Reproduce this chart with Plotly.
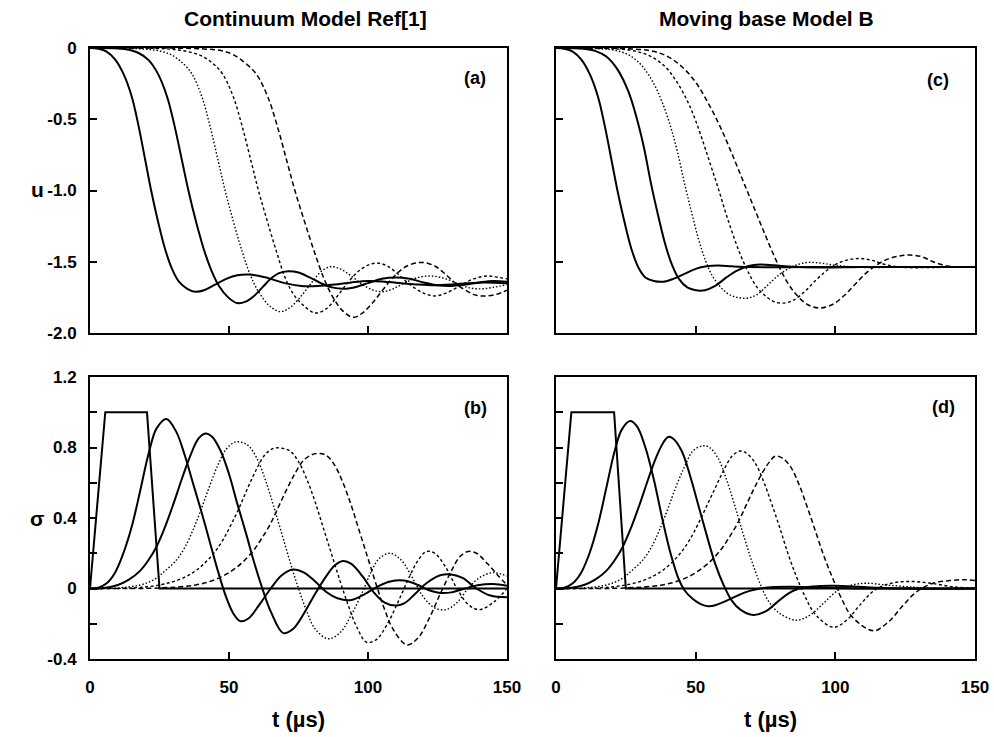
import plotly.graph_objects as go

# ---------------- Data ----------------
# Panel (a): Continuum model, displacement u
a1_t = [0,3,6,9,12,15,17.5,20,22,24.5,27,29.5,32,35,37.8,41,45,49,53,57,61,65,70,76,82,88,94,100,106,112,118,124,130,136,142,150]
a1_u = [0,-0.005,-0.025,-0.08,-0.18,-0.34,-0.55,-0.8,-1.0,-1.22,-1.41,-1.55,-1.64,-1.69,-1.71,-1.70,-1.66,-1.62,-1.595,-1.59,-1.60,-1.62,-1.65,-1.67,-1.67,-1.66,-1.645,-1.635,-1.64,-1.65,-1.66,-1.665,-1.66,-1.65,-1.645,-1.65]
a2_t = [0,10,14,17.5,21.1,24.4,27.7,30.45,33.2,35.4,38.15,40.9,43.65,46.4,49.7,52.9,56,59,62,65,68,71.3,75,79,83,87,91.5,96,100,105,110,115,120,125,130,135,140,145,150]
a2_u = [0,-0.003,-0.012,-0.035,-0.085,-0.18,-0.34,-0.55,-0.8,-1.0,-1.22,-1.41,-1.56,-1.67,-1.75,-1.79,-1.78,-1.74,-1.68,-1.62,-1.58,-1.566,-1.575,-1.61,-1.65,-1.68,-1.69,-1.675,-1.65,-1.62,-1.61,-1.62,-1.645,-1.665,-1.67,-1.66,-1.645,-1.635,-1.64]
a3_t = [0,15,22,26,29.5,33,36.6,40.2,43.2,46.2,48.6,51.6,54.6,57.6,60.6,64.6,68.5,72,76,80,83,86.5,90,94,98,102,105.5,109,113,118,123,128,133,137,141,145,150]
a3_u = [0,-0.003,-0.012,-0.025,-0.05,-0.1,-0.18,-0.34,-0.55,-0.8,-1.0,-1.22,-1.42,-1.59,-1.71,-1.81,-1.85,-1.82,-1.74,-1.64,-1.57,-1.535,-1.55,-1.6,-1.66,-1.7,-1.71,-1.69,-1.65,-1.61,-1.6,-1.62,-1.66,-1.685,-1.69,-1.68,-1.66]
a4_t = [0,22,30,35,39.5,43.7,47.6,51.5,54.75,58,60.6,63.85,67.1,70.35,73.6,77.6,81.1,85,89,93,97,100.5,103.7,107,111,115,120,124,128,133,138,143,147,150]
a4_u = [0,-0.002,-0.01,-0.025,-0.05,-0.1,-0.18,-0.34,-0.55,-0.8,-1.0,-1.22,-1.43,-1.62,-1.74,-1.82,-1.86,-1.83,-1.74,-1.64,-1.56,-1.52,-1.51,-1.53,-1.59,-1.66,-1.72,-1.74,-1.72,-1.67,-1.62,-1.6,-1.61,-1.62]
a5_t = [0,34,42,47.1,51.3,55.5,59.7,63.9,67.4,70.9,73.7,77.2,80.7,84.2,87.7,91.2,94.7,98,102,106,110,114,119.3,124,128,132,136,139,142,146,150]
a5_u = [0,-0.002,-0.008,-0.018,-0.045,-0.1,-0.18,-0.34,-0.55,-0.8,-1.0,-1.22,-1.43,-1.62,-1.76,-1.85,-1.89,-1.86,-1.78,-1.68,-1.59,-1.53,-1.505,-1.53,-1.59,-1.66,-1.71,-1.735,-1.74,-1.73,-1.7]

# Panel (b): Continuum model, stress sigma
b0_t = [0,5.5,20.5,25,150]
b0_s = [0,1.0,1.0,0,0]
b1_t = [0,3,6,9,12,15,18,21,24,27.5,31,34,37,40,43,46,49,51.5,54,57,61,65,69,73,77,81,85,89,94,99,104,108,113,118,122,126,130,135,140,145,150]
b1_s = [0,0.005,0.03,0.09,0.2,0.35,0.55,0.76,0.91,0.962,0.89,0.76,0.6,0.44,0.27,0.1,-0.05,-0.14,-0.185,-0.17,-0.09,0.0,0.075,0.108,0.09,0.04,-0.02,-0.055,-0.065,-0.03,0.015,0.04,0.045,0.02,-0.01,-0.025,-0.022,0.0,0.02,0.025,0.015]
b2_t = [0,5,10,14,18,21,24,27,30,33,36,39,41.5,44,47,50,53,56,59,62,65,69.5,73,77,81,85,88,91,94,98,102,106,110,113,117,121,126,130,134,139,144,150]
b2_s = [0,0.003,0.02,0.05,0.1,0.16,0.24,0.35,0.48,0.62,0.75,0.85,0.88,0.86,0.78,0.65,0.48,0.32,0.15,0.0,-0.13,-0.253,-0.23,-0.14,-0.03,0.07,0.13,0.156,0.14,0.07,-0.02,-0.08,-0.097,-0.085,-0.03,0.03,0.075,0.08,0.06,0.0,-0.04,-0.05]
b3_t = [0,10,18,23,27,31,34,37,40,43,46,49,52,54.5,57,60,63,66,69,72,75,78,81,85.7,90,94,98,101,104,108,112,116,120,124,128,132,136,140,145,150]
b3_s = [0,0.003,0.02,0.05,0.1,0.16,0.23,0.33,0.45,0.58,0.7,0.79,0.83,0.83,0.81,0.74,0.62,0.47,0.31,0.15,0.0,-0.13,-0.23,-0.285,-0.25,-0.15,-0.02,0.09,0.17,0.2,0.16,0.06,-0.05,-0.11,-0.12,-0.08,0.0,0.06,0.09,0.07]
b4_t = [0,15,25,32,37,41,45,48,51,54,57,60,63,66,69,72,75,78,81,84,87,90,93,96,99.5,103,107,111,115,118,121,124,128,132,136,140,145,150]
b4_s = [0,0.003,0.02,0.05,0.09,0.14,0.21,0.28,0.37,0.47,0.58,0.68,0.76,0.795,0.796,0.78,0.72,0.62,0.49,0.34,0.19,0.04,-0.1,-0.22,-0.305,-0.29,-0.2,-0.07,0.07,0.16,0.21,0.2,0.12,0.0,-0.09,-0.12,-0.08,0.0]
b5_t = [0,25,38,45,50,55,59,62,65,68,71,74,77,80,82.7,85,88,91,94,97,100,103,106,109,114,118,122,126,130,133,136,139,143,147,150]
b5_s = [0,0.003,0.02,0.05,0.09,0.15,0.22,0.29,0.37,0.47,0.57,0.66,0.73,0.76,0.766,0.755,0.7,0.6,0.47,0.32,0.17,0.02,-0.12,-0.23,-0.32,-0.28,-0.17,-0.03,0.1,0.18,0.21,0.2,0.14,0.07,0.02]

# Panel (c): Moving base model B, displacement u
c1_t = [0,3,6,9,12,15,17.5,20,22,24.5,27,29.5,32,35,38.5,42,46,50,54,58,63,70,80,95,115,150]
c1_u = [0,-0.005,-0.025,-0.08,-0.18,-0.34,-0.55,-0.8,-1.0,-1.22,-1.41,-1.54,-1.61,-1.635,-1.64,-1.62,-1.585,-1.55,-1.532,-1.527,-1.532,-1.537,-1.538,-1.537,-1.537,-1.537]
c2_t = [0,10,14,18,22,26,29,31.5,34,36.5,39,41.5,44,47,50,53.3,57,61,65,69,73,78,85,95,110,150]
c2_u = [0,-0.005,-0.02,-0.06,-0.15,-0.31,-0.5,-0.7,-0.95,-1.17,-1.37,-1.52,-1.62,-1.68,-1.70,-1.70,-1.67,-1.61,-1.56,-1.53,-1.52,-1.525,-1.535,-1.54,-1.537,-1.537]
c3_t = [0,15,22,27,31,35,38,41,43.5,46,48.5,51,53.5,56,59,62,65,68.2,72,76,80,85,90,95,100,110,125,150]
c3_u = [0,-0.005,-0.02,-0.06,-0.13,-0.25,-0.38,-0.55,-0.73,-0.95,-1.15,-1.34,-1.49,-1.6,-1.68,-1.73,-1.75,-1.756,-1.73,-1.66,-1.59,-1.53,-1.505,-1.51,-1.525,-1.54,-1.537,-1.537]
c4_t = [0,20,28,34,39,43,47,50,53,55.5,58,60.5,63,66,69,72,75,78,81.4,85,89,93,97,101,105,108.8,113,118,125,135,150]
c4_u = [0,-0.005,-0.02,-0.06,-0.13,-0.23,-0.37,-0.51,-0.68,-0.83,-0.98,-1.14,-1.29,-1.45,-1.58,-1.68,-1.74,-1.78,-1.79,-1.77,-1.71,-1.63,-1.56,-1.51,-1.485,-1.477,-1.49,-1.52,-1.54,-1.54,-1.537]
c5_t = [0,25,34,40,45,50,54,58,61,64,66.5,69,71.5,74,77,80,83,86,90,94.5,99,103,107,111,115,119,123,126.7,131,135,140,145,150]
c5_u = [0,-0.005,-0.02,-0.06,-0.13,-0.24,-0.37,-0.52,-0.65,-0.79,-0.91,-1.03,-1.15,-1.27,-1.41,-1.54,-1.65,-1.73,-1.8,-1.825,-1.8,-1.74,-1.66,-1.58,-1.52,-1.48,-1.46,-1.453,-1.465,-1.5,-1.53,-1.538,-1.537]

# Panel (d): Moving base model B, stress sigma
d0_t = [0,5.5,20.8,25,150]
d0_s = [0,1.0,1.0,0,0]
d1_t = [0,3,6,9,12,15,18,21,23.5,26.5,29,32,35,38,41,44,46,49,52,54.5,57,61,65,69,73,78,85,95,110,130,150]
d1_s = [0,0.005,0.03,0.09,0.2,0.36,0.57,0.78,0.9,0.95,0.92,0.8,0.62,0.4,0.2,0.05,-0.01,-0.06,-0.09,-0.1,-0.095,-0.07,-0.04,-0.015,0.0,0.008,0.01,0.005,0.0,0.0,0.0]
d2_t = [0,5,10,14,18,21,24,27,30,33,36,38.5,40.2,42,45,48,51,54,57,60,63,66,70.6,75,79,83,87,92,100,110,125,150]
d2_s = [0,0.003,0.02,0.05,0.1,0.16,0.24,0.35,0.48,0.62,0.75,0.83,0.86,0.85,0.78,0.64,0.47,0.3,0.14,0.02,-0.07,-0.12,-0.15,-0.13,-0.08,-0.03,0.0,0.012,0.015,0.008,0.0,0.0]
d3_t = [0,10,18,23,27,31,34,37,40,43,46,49,52.7,55,58,61,64,67,70,73,76,80,86,91,96,101,106,111,118,126,135,150]
d3_s = [0,0.003,0.02,0.05,0.1,0.16,0.23,0.33,0.45,0.58,0.69,0.78,0.81,0.8,0.74,0.62,0.47,0.31,0.16,0.03,-0.07,-0.14,-0.18,-0.15,-0.08,-0.01,0.02,0.03,0.02,0.01,0.0,0.0]
d4_t = [0,15,25,32,37,41,45,48,51,54,57,60,63,65.9,68,71,74,77,80,83,86,89,93,99.3,104,109,114,120,127,134,142,150]
d4_s = [0,0.003,0.02,0.05,0.09,0.14,0.21,0.28,0.37,0.47,0.57,0.67,0.75,0.78,0.77,0.72,0.62,0.49,0.35,0.2,0.07,-0.04,-0.15,-0.22,-0.18,-0.09,-0.01,0.03,0.04,0.03,0.01,0.0]
d5_t = [0,25,38,45,50,55,59,62,65,68,71,74,76.5,78.4,81,84,87,90,93,96,99,102,106,113.6,119,124,129,135,141,146,150]
d5_s = [0,0.003,0.02,0.05,0.09,0.15,0.22,0.29,0.37,0.47,0.57,0.66,0.72,0.75,0.74,0.69,0.59,0.46,0.32,0.18,0.06,-0.05,-0.16,-0.24,-0.19,-0.1,-0.02,0.03,0.045,0.05,0.045]

x_ticks = [0, 50, 100, 150]
u_ticks = [0, -0.5, -1.0, -1.5, -2.0]
u_ticktext = ["0", "-0.5", "-1.0", "-1.5", "-2.0"]
s_ticks = [1.2, 1.0, 0.8, 0.6, 0.4, 0.2, 0, -0.2, -0.4]
s_ticktext = ["1.2", "", "0.8", "", "0.4", "", "0", "", "-0.4"]

titles = ["Continuum Model Ref[1]", "Moving base Model B"]
panel_tags = ["(a)", "(b)", "(c)", "(d)"]
x_title = "t (\u00b5s)"

# ---------------- Styles ----------------
FONT = "Liberation Sans, Arial, Helvetica, sans-serif"
solid_thick = dict(color="black", width=2)
dotted = dict(color="black", width=1.4, dash="1.5px,2px")
shortdash = dict(color="black", width=1.4, dash="3px,2.5px")
dashed = dict(color="black", width=1.5, dash="5px,3px")

fig = go.Figure()

def add(x, y, line, xa, ya, shape="spline"):
    fig.add_trace(go.Scatter(x=x, y=y, mode="lines", line=dict(shape=shape, smoothing=1.0, **line),
                             xaxis=xa, yaxis=ya, showlegend=False, hoverinfo="skip"))

styles = [solid_thick, solid_thick, dotted, shortdash, dashed]
for (t, u), ln in zip([(a1_t, a1_u), (a2_t, a2_u), (a3_t, a3_u), (a4_t, a4_u), (a5_t, a5_u)], styles):
    add(t, u, ln, "x", "y")
for (t, u), ln in zip([(c1_t, c1_u), (c2_t, c2_u), (c3_t, c3_u), (c4_t, c4_u), (c5_t, c5_u)], styles):
    add(t, u, ln, "x2", "y2")
add(b0_t, b0_s, solid_thick, "x3", "y3", shape="linear")
for (t, s), ln in zip([(b1_t, b1_s), (b2_t, b2_s), (b3_t, b3_s), (b4_t, b4_s), (b5_t, b5_s)], styles):
    add(t, s, ln, "x3", "y3")
add(d0_t, d0_s, solid_thick, "x4", "y4", shape="linear")
for (t, s), ln in zip([(d1_t, d1_s), (d2_t, d2_s), (d3_t, d3_s), (d4_t, d4_s), (d5_t, d5_s)], styles):
    add(t, s, ln, "x4", "y4")

# Figure fills the whole 994x737 window (the page margin is removed below).
W, H = 994, 737

def PX(px):
    return px / W

def PY(py):
    return 1 - py / H

LX = [PX(90), PX(507)]
RX = [PX(556), PX(975)]
TY = [PY(333), PY(48)]
BY = [PY(659), PY(377)]

tickfont = dict(family=FONT, size=17, color="black", weight="bold")
common = dict(showline=True, linecolor="black", linewidth=2, mirror=True, ticks="inside",
              ticklen=7, tickwidth=2, tickcolor="black", showgrid=False, zeroline=False,
              tickfont=tickfont, automargin=False)

def xax(domain, anchor, labels):
    return dict(domain=domain, anchor=anchor, range=[0, 150], tickvals=x_ticks,
                ticktext=[str(v) for v in x_ticks], showticklabels=labels,
                ticklabelstandoff=12, **common)

def yax(domain, anchor, vals, text, rng, labels):
    return dict(domain=domain, anchor=anchor, range=rng, tickvals=vals, ticktext=text,
                showticklabels=labels, ticklabelstandoff=8, **common)

fig.update_layout(
    width=W, height=H, margin=dict(l=0, r=0, t=0, b=0, autoexpand=False),
    paper_bgcolor="white", plot_bgcolor="white", showlegend=False,
    xaxis=xax(LX, "y", False), yaxis=yax(TY, "x", u_ticks, u_ticktext, [-2.0, 0], True),
    xaxis2=xax(RX, "y2", False), yaxis2=yax(TY, "x2", u_ticks, u_ticktext, [-2.0, 0], False),
    xaxis3=xax(LX, "y3", True), yaxis3=yax(BY, "x3", s_ticks, s_ticktext, [-0.4, 1.2], True),
    xaxis4=xax(RX, "y4", True), yaxis4=yax(BY, "x4", s_ticks, s_ticktext, [-0.4, 1.2], False),
)

ann = []
bold = dict(family=FONT, color="black", weight="bold")

def text_at(txt, px, py, size):
    ann.append(dict(text=txt, x=PX(px), y=PY(py), xref="paper", yref="paper",
                    xanchor="center", yanchor="middle", showarrow=False,
                    font=dict(size=size, **bold)))

text_at(titles[0], 305, 19, 21)
text_at(titles[1], 766, 19, 21)
text_at(x_title, 298, 719, 22)
text_at(x_title, 770, 719, 22)
text_at("u", 37, 190, 21)
text_at("\u03c3", 37, 518, 21)
text_at(panel_tags[0], 475, 78, 18)
text_at(panel_tags[1], 475, 408, 18)
text_at(panel_tags[2], 938, 80, 18)
text_at(panel_tags[3], 943, 407, 18)
fig.update_layout(annotations=ann)

fig.write_html("out.html", config={"displayModeBar": False},
               post_script="document.body.style.margin='0px';document.body.style.overflow='hidden';")
